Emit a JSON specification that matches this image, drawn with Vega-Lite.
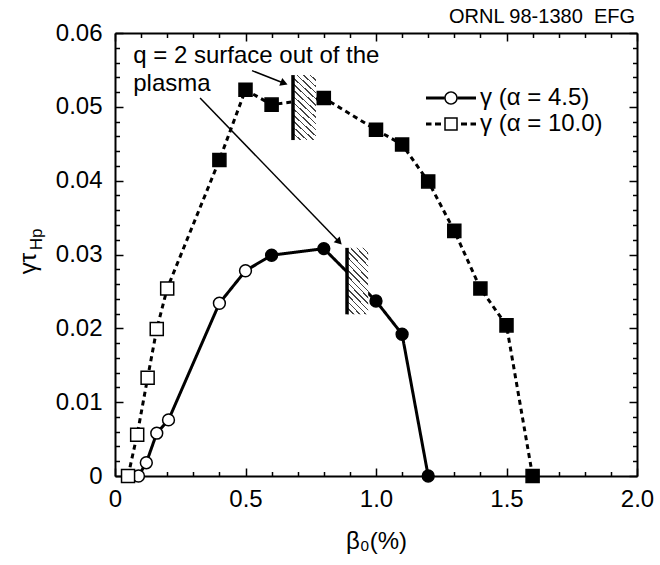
{
  "$schema": "https://vega.github.io/schema/vega-lite/v6.json",
  "width": 522,
  "height": 443,
  "autosize": {"type": "none"},
  "padding": {"left": 115, "top": 33, "right": 23, "bottom": 89},
  "background": "white",
  "config": {
    "view": {"stroke": null},
    "font": "Liberation Sans",
    "axis": {
      "grid": false,
      "domainColor": "black",
      "domainWidth": 2,
      "tickColor": "black",
      "tickWidth": 1.5,
      "labelColor": "black",
      "titleColor": "black",
      "labelFont": "Liberation Sans",
      "titleFont": "Liberation Sans",
      "labelFontSize": 24,
      "titleFontWeight": "normal",
      "labelFlush": false,
      "labelBound": false,
      "labelOverlap": false
    }
  },
  "title": {
    "text": "ORNL 98-1380\u00a0 EFG",
    "anchor": "end",
    "frame": "group",
    "font": "Liberation Sans",
    "fontSize": 20,
    "fontWeight": "normal",
    "color": "black",
    "offset": -6,
    "dx": -2
  },
  "datasets": {
    "series": [
      {"beta": 0.09, "gamma": 0, "series": "γ (α = 4.5)", "alpha": 4.5, "kind": "open"},
      {"beta": 0.12, "gamma": 0.0018, "series": "γ (α = 4.5)", "alpha": 4.5, "kind": "open"},
      {"beta": 0.16, "gamma": 0.0058, "series": "γ (α = 4.5)", "alpha": 4.5, "kind": "open"},
      {"beta": 0.205, "gamma": 0.0076, "series": "γ (α = 4.5)", "alpha": 4.5, "kind": "open"},
      {"beta": 0.4, "gamma": 0.0234, "series": "γ (α = 4.5)", "alpha": 4.5, "kind": "open"},
      {"beta": 0.5, "gamma": 0.0278, "series": "γ (α = 4.5)", "alpha": 4.5, "kind": "open"},
      {"beta": 0.6, "gamma": 0.0299, "series": "γ (α = 4.5)", "alpha": 4.5, "kind": "solid"},
      {"beta": 0.8, "gamma": 0.0308, "series": "γ (α = 4.5)", "alpha": 4.5, "kind": "solid"},
      {"beta": 1.0, "gamma": 0.0237, "series": "γ (α = 4.5)", "alpha": 4.5, "kind": "solid"},
      {"beta": 1.1, "gamma": 0.0192, "series": "γ (α = 4.5)", "alpha": 4.5, "kind": "solid"},
      {"beta": 1.2, "gamma": 0, "series": "γ (α = 4.5)", "alpha": 4.5, "kind": "solid"},
      {"beta": 0.05, "gamma": 0, "series": "γ (α = 10.0)", "alpha": 10.0, "kind": "open"},
      {"beta": 0.085, "gamma": 0.0056, "series": "γ (α = 10.0)", "alpha": 10.0, "kind": "open"},
      {"beta": 0.125, "gamma": 0.0133, "series": "γ (α = 10.0)", "alpha": 10.0, "kind": "open"},
      {"beta": 0.16, "gamma": 0.0199, "series": "γ (α = 10.0)", "alpha": 10.0, "kind": "open"},
      {"beta": 0.2, "gamma": 0.0254, "series": "γ (α = 10.0)", "alpha": 10.0, "kind": "open"},
      {"beta": 0.4, "gamma": 0.0428, "series": "γ (α = 10.0)", "alpha": 10.0, "kind": "solid"},
      {"beta": 0.5, "gamma": 0.0523, "series": "γ (α = 10.0)", "alpha": 10.0, "kind": "solid"},
      {"beta": 0.6, "gamma": 0.0503, "series": "γ (α = 10.0)", "alpha": 10.0, "kind": "solid"},
      {"beta": 0.8, "gamma": 0.0512, "series": "γ (α = 10.0)", "alpha": 10.0, "kind": "solid"},
      {"beta": 1.0, "gamma": 0.0469, "series": "γ (α = 10.0)", "alpha": 10.0, "kind": "solid"},
      {"beta": 1.1, "gamma": 0.0449, "series": "γ (α = 10.0)", "alpha": 10.0, "kind": "solid"},
      {"beta": 1.2, "gamma": 0.0399, "series": "γ (α = 10.0)", "alpha": 10.0, "kind": "solid"},
      {"beta": 1.3, "gamma": 0.0332, "series": "γ (α = 10.0)", "alpha": 10.0, "kind": "solid"},
      {"beta": 1.4, "gamma": 0.0254, "series": "γ (α = 10.0)", "alpha": 10.0, "kind": "solid"},
      {"beta": 1.5, "gamma": 0.0204, "series": "γ (α = 10.0)", "alpha": 10.0, "kind": "solid"},
      {"beta": 1.6, "gamma": 0, "series": "γ (α = 10.0)", "alpha": 10.0, "kind": "solid"}
    ],
    "zones": [
      {"x1": 0.682, "x2": 0.77, "y1": 0.0455, "y2": 0.0543},
      {"x1": 0.889, "x2": 0.97, "y1": 0.0219, "y2": 0.0309}
    ],
    "arrows": [
      {"x1": 0.525, "y1": 0.0549, "x2": 0.648, "y2": 0.0532},
      {"x1": 0.326, "y1": 0.0512, "x2": 0.859, "y2": 0.0317}
    ],
    "notes": [
      {"beta": 0.07, "gamma": 0.05594, "label": "q = 2 surface out of the"},
      {"beta": 0.07, "gamma": 0.05215, "label": "plasma"}
    ]
  },
  "layer": [
    {
      "data": {"name": "series"},
      "mark": {"type": "line", "color": "black", "strokeWidth": 3},
      "encoding": {
        "x": {"field": "beta", "type": "quantitative", "scale": {"domain": [0, 2], "nice": false, "zero": false},
          "axis": {"orient": "bottom", "values": [0, 0.5, 1, 1.5, 2], "tickSize": -8, "labelPadding": 19,
            "labelExpr": "datum.value == 0 ? '0' : format(datum.value, '.1f')",
            "title": "β₀(%)", "titleFontSize": 24, "titleBaseline": "alphabetic", "titleY": 72, "titleX": 261}},
        "y": {"field": "gamma", "type": "quantitative", "scale": {"domain": [0, 0.06], "nice": false, "zero": false},
          "axis": {"orient": "left", "values": [0, 0.01, 0.02, 0.03, 0.04, 0.05, 0.06], "tickSize": -8, "labelPadding": 21,
            "labelExpr": "datum.value == 0 ? '0' : format(datum.value, '.2f')",
            "title": "γτ", "titleFontSize": 24, "titleBaseline": "alphabetic", "titleAlign": "center", "titleAngle": -90, "titleX": -80, "titleY": 230}},
        "strokeDash": {"field": "series", "type": "nominal",
          "scale": {"domain": ["γ (α = 4.5)", "γ (α = 10.0)"], "range": [[1, 0], [5, 4]]},
          "legend": null}
      }
    },
    {
      "data": {"name": "zones"},
      "mark": {"type": "rect", "stroke": null,
        "fill": {"gradient": "linear", "x1": 0, "y1": 1, "x2": 0.396, "y2": -0.199, "stops": [
          {"offset": 0, "color": "#444"}, {"offset": 0.01786, "color": "#444"}, {"offset": 0.01786, "color": "white"}, {"offset": 0.07143, "color": "white"},
          {"offset": 0.07143, "color": "#444"}, {"offset": 0.08929, "color": "#444"}, {"offset": 0.08929, "color": "white"}, {"offset": 0.14286, "color": "white"},
          {"offset": 0.14286, "color": "#444"}, {"offset": 0.16071, "color": "#444"}, {"offset": 0.16071, "color": "white"}, {"offset": 0.21429, "color": "white"},
          {"offset": 0.21429, "color": "#444"}, {"offset": 0.23214, "color": "#444"}, {"offset": 0.23214, "color": "white"}, {"offset": 0.28571, "color": "white"},
          {"offset": 0.28571, "color": "#444"}, {"offset": 0.30357, "color": "#444"}, {"offset": 0.30357, "color": "white"}, {"offset": 0.35714, "color": "white"},
          {"offset": 0.35714, "color": "#444"}, {"offset": 0.375, "color": "#444"}, {"offset": 0.375, "color": "white"}, {"offset": 0.42857, "color": "white"},
          {"offset": 0.42857, "color": "#444"}, {"offset": 0.44643, "color": "#444"}, {"offset": 0.44643, "color": "white"}, {"offset": 0.5, "color": "white"},
          {"offset": 0.5, "color": "#444"}, {"offset": 0.51786, "color": "#444"}, {"offset": 0.51786, "color": "white"}, {"offset": 0.57143, "color": "white"},
          {"offset": 0.57143, "color": "#444"}, {"offset": 0.58929, "color": "#444"}, {"offset": 0.58929, "color": "white"}, {"offset": 0.64286, "color": "white"},
          {"offset": 0.64286, "color": "#444"}, {"offset": 0.66071, "color": "#444"}, {"offset": 0.66071, "color": "white"}, {"offset": 0.71429, "color": "white"},
          {"offset": 0.71429, "color": "#444"}, {"offset": 0.73214, "color": "#444"}, {"offset": 0.73214, "color": "white"}, {"offset": 0.78571, "color": "white"},
          {"offset": 0.78571, "color": "#444"}, {"offset": 0.80357, "color": "#444"}, {"offset": 0.80357, "color": "white"}, {"offset": 0.85714, "color": "white"},
          {"offset": 0.85714, "color": "#444"}, {"offset": 0.875, "color": "#444"}, {"offset": 0.875, "color": "white"}, {"offset": 0.92857, "color": "white"},
          {"offset": 0.92857, "color": "#444"}, {"offset": 0.94643, "color": "#444"}, {"offset": 0.94643, "color": "white"}, {"offset": 1, "color": "white"}
        ]}},
      "encoding": {
        "x": {"field": "x1", "type": "quantitative", "scale": {"domain": [0, 2], "nice": false, "zero": false},
          "axis": {"orient": "bottom", "values": [0.1, 0.2, 0.3, 0.4, 0.6, 0.7, 0.8, 0.9, 1.1, 1.2, 1.3, 1.4, 1.6, 1.7, 1.8, 1.9], "tickSize": -4.5, "labels": false, "domain": false, "title": null}},
        "x2": {"field": "x2"},
        "y": {"field": "y1", "type": "quantitative", "scale": {"domain": [0, 0.06], "nice": false, "zero": false},
          "axis": {"orient": "left", "values": [0.002, 0.004, 0.006, 0.008, 0.012, 0.014, 0.016, 0.018, 0.022, 0.024, 0.026, 0.028, 0.032, 0.034, 0.036, 0.038, 0.042, 0.044, 0.046, 0.048, 0.052, 0.054, 0.056, 0.058],
            "tickSize": -4.5, "labels": false, "domain": false,
            "title": "Hp", "titleFontSize": 17, "titleBaseline": "alphabetic", "titleAlign": "center", "titleAngle": -90, "titleX": -74, "titleY": 206}},
        "y2": {"field": "y2"}
      }
    },
    {
      "data": {"name": "zones"},
      "mark": {"type": "rule", "color": "black", "strokeWidth": 3.5},
      "encoding": {
        "x": {"field": "x1", "type": "quantitative", "scale": {"domain": [0, 2], "nice": false, "zero": false},
          "axis": {"orient": "top", "values": [0, 0.5, 1, 1.5, 2], "tickSize": -8, "labels": false, "title": null}},
        "y": {"field": "y1", "type": "quantitative", "scale": {"domain": [0, 0.06], "nice": false, "zero": false},
          "axis": {"orient": "right", "values": [0, 0.01, 0.02, 0.03, 0.04, 0.05, 0.06], "tickSize": -8, "labels": false, "title": null}},
        "y2": {"field": "y2"}
      }
    },
    {
      "data": {"name": "series"},
      "mark": {"type": "point", "filled": true, "stroke": "black", "strokeWidth": 1.5, "opacity": 1},
      "encoding": {
        "x": {"field": "beta", "type": "quantitative", "scale": {"domain": [0, 2], "nice": false, "zero": false},
          "axis": {"orient": "top", "values": [0.1, 0.2, 0.3, 0.4, 0.6, 0.7, 0.8, 0.9, 1.1, 1.2, 1.3, 1.4, 1.6, 1.7, 1.8, 1.9], "tickSize": -4.5, "labels": false, "domain": false, "title": null}},
        "y": {"field": "gamma", "type": "quantitative", "scale": {"domain": [0, 0.06], "nice": false, "zero": false},
          "axis": {"orient": "right", "values": [0.002, 0.004, 0.006, 0.008, 0.012, 0.014, 0.016, 0.018, 0.022, 0.024, 0.026, 0.028, 0.032, 0.034, 0.036, 0.038, 0.042, 0.044, 0.046, 0.048, 0.052, 0.054, 0.056, 0.058],
            "tickSize": -4.5, "labels": false, "domain": false, "title": null}},
        "shape": {"field": "alpha", "type": "nominal", "scale": {"domain": [4.5, 10], "range": ["circle", "square"]}, "legend": null},
        "size": {"field": "alpha", "type": "ordinal", "scale": {"domain": [4.5, 10], "range": [140, 170]}, "legend": null},
        "fill": {"field": "kind", "type": "nominal", "scale": {"domain": ["open", "solid"], "range": ["white", "black"]}, "legend": null}
      }
    },
    {
      "data": {"name": "series"},
      "mark": {"type": "point", "filled": true, "color": "black", "opacity": 0},
      "encoding": {
        "x": {"field": "beta", "type": "quantitative", "scale": {"domain": [0, 2], "nice": false, "zero": false}, "axis": null},
        "y": {"field": "gamma", "type": "quantitative", "scale": {"domain": [0, 0.06], "nice": false, "zero": false}, "axis": null},
        "shape": {"field": "series", "type": "nominal",
          "scale": {"domain": ["γ (α = 4.5)", "γ (α = 10.0)"],
            "range": [
              "M-1,-0.06H-0.27V0.06H-1Z M0.27,-0.06H1V0.06H0.27Z M0.27,0A0.27,0.27 0 1 0 -0.27,0A0.27,0.27 0 1 0 0.27,0Z M0.21,0A0.21,0.21 0 1 1 -0.21,0A0.21,0.21 0 1 1 0.21,0Z",
              "M-1,-0.06H-0.78V0.06H-1Z M-0.64,-0.06H-0.4V0.06H-0.64Z M0.4,-0.06H0.64V0.06H0.4Z M0.78,-0.06H1V0.06H0.78Z M-0.27,-0.27H0.27V0.27H-0.27Z M-0.21,-0.21V0.21H0.21V-0.21Z"
            ]},
          "legend": {
            "title": null, "orient": "none", "legendX": 311, "legendY": 53,
            "symbolSize": 2500, "clipHeight": 24, "rowPadding": 2, "padding": 0,
            "labelFontSize": 24, "labelFont": "Liberation Sans", "labelColor": "black", "labelLimit": 400, "labelOffset": 4,
            "symbolStrokeWidth": 0, "symbolFillColor": "black", "symbolOpacity": 1
          }}
      }
    },
    {
      "data": {"name": "arrows"},
      "mark": {"type": "rule", "color": "black", "strokeWidth": 1.5},
      "encoding": {
        "x": {"field": "x1", "type": "quantitative", "scale": {"domain": [0, 2], "nice": false, "zero": false}, "axis": null},
        "y": {"field": "y1", "type": "quantitative", "scale": {"domain": [0, 0.06], "nice": false, "zero": false}, "axis": null},
        "x2": {"field": "x2"},
        "y2": {"field": "y2"}
      }
    },
    {
      "data": {"values": [{"beta": 0.648, "gamma": 0.0532}]},
      "mark": {"type": "point", "shape": "triangle-right", "filled": true, "color": "black", "opacity": 1, "size": 70, "angle": 21},
      "encoding": {
        "x": {"field": "beta", "type": "quantitative", "scale": {"domain": [0, 2], "nice": false, "zero": false}, "axis": null},
        "y": {"field": "gamma", "type": "quantitative", "scale": {"domain": [0, 0.06], "nice": false, "zero": false}, "axis": null}
      }
    },
    {
      "data": {"values": [{"beta": 0.859, "gamma": 0.0317}]},
      "mark": {"type": "point", "shape": "triangle-right", "filled": true, "color": "black", "opacity": 1, "size": 70, "angle": 46},
      "encoding": {
        "x": {"field": "beta", "type": "quantitative", "scale": {"domain": [0, 2], "nice": false, "zero": false}, "axis": null},
        "y": {"field": "gamma", "type": "quantitative", "scale": {"domain": [0, 0.06], "nice": false, "zero": false}, "axis": null}
      }
    },
    {
      "data": {"name": "notes"},
      "mark": {"type": "text", "align": "left", "baseline": "alphabetic", "font": "Liberation Sans", "fontSize": 24, "color": "black"},
      "encoding": {
        "x": {"field": "beta", "type": "quantitative", "scale": {"domain": [0, 2], "nice": false, "zero": false}, "axis": null},
        "y": {"field": "gamma", "type": "quantitative", "scale": {"domain": [0, 0.06], "nice": false, "zero": false}, "axis": null},
        "text": {"field": "label", "type": "nominal"}
      }
    }
  ],
  "resolve": {"scale": {"shape": "independent"}, "axis": {"x": "independent", "y": "independent"}}
}
